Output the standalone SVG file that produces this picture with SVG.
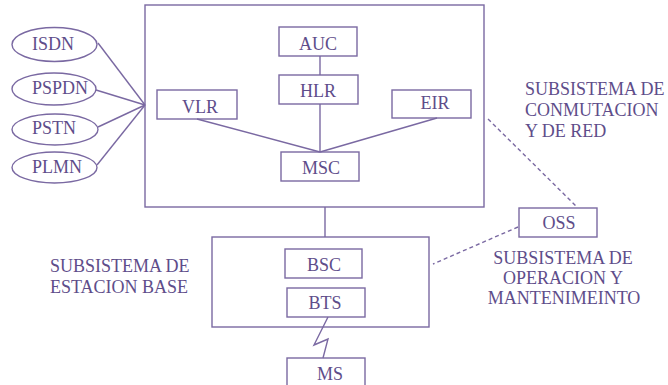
<svg xmlns="http://www.w3.org/2000/svg" width="668" height="385" viewBox="0 0 668 385">
  <style>
    .box { fill: none; stroke: #7a69a2; stroke-width: 1.4; }
    .ell { fill: #ffffff; stroke: #7a69a2; stroke-width: 1.4; }
    .ln { fill: none; stroke: #7a69a2; stroke-width: 1.4; }
    .dash { fill: none; stroke: #7a69a2; stroke-width: 1.4; stroke-dasharray: 4 3; }
    .t { font-family: "Liberation Serif", "Times New Roman", Times, Tinos, "Noto Serif", "DejaVu Serif", FreeSerif, Georgia, serif; font-size: 18px; fill: #5e4d8a; }
    .c { text-anchor: middle; }
  </style>
  <rect width="668" height="385" fill="#ffffff"/>

  <!-- subsystem frames -->
  <g id="nss">
    <rect class="box" x="145" y="5" width="339" height="202"/>
  </g>
  <g id="bss">
    <rect class="box" x="212" y="237" width="217" height="90"/>
  </g>

  <!-- connectors -->
  <g id="connectors">
    <line class="ln" x1="98" y1="43" x2="145" y2="105"/>
    <line class="ln" x1="96" y1="90" x2="145" y2="105"/>
    <line class="ln" x1="98" y1="127" x2="145" y2="105"/>
    <line class="ln" x1="97" y1="165" x2="145" y2="105"/>
    <line class="ln" x1="320" y1="56" x2="320" y2="75"/>
    <line class="ln" x1="320" y1="104" x2="320" y2="152"/>
    <line class="ln" x1="197" y1="119" x2="320" y2="152"/>
    <line class="ln" x1="437" y1="118" x2="320" y2="152"/>
    <line class="ln" x1="325" y1="207" x2="325" y2="237"/>
    <polyline class="ln" points="328,317 314,345 328,339 323,358"/>
    <line class="dash" x1="488" y1="119" x2="577" y2="207"/>
    <line class="dash" x1="518" y1="227" x2="433" y2="264"/>
  </g>

  <!-- external networks -->
  <g id="isdn">
    <ellipse class="ell" cx="54.5" cy="44.5" rx="42.5" ry="17"/>
    <text class="t" x="32" y="50">ISDN</text>
  </g>
  <g id="pspdn">
    <ellipse class="ell" cx="54" cy="89" rx="42" ry="16"/>
    <text class="t" x="32" y="94">PSPDN</text>
  </g>
  <g id="pstn">
    <ellipse class="ell" cx="55" cy="129.5" rx="43" ry="15.5"/>
    <text class="t" x="32" y="134">PSTN</text>
  </g>
  <g id="plmn">
    <ellipse class="ell" cx="54.5" cy="167.5" rx="42.5" ry="15.5"/>
    <text class="t" x="32" y="173">PLMN</text>
  </g>

  <!-- switching subsystem elements -->
  <g id="auc">
    <rect class="box" x="279" y="27" width="78" height="29"/>
    <text class="t c" x="318" y="50">AUC</text>
  </g>
  <g id="hlr">
    <rect class="box" x="279" y="75" width="79" height="29"/>
    <text class="t c" x="318" y="97">HLR</text>
  </g>
  <g id="vlr">
    <rect class="box" x="157" y="90" width="80" height="29"/>
    <text class="t c" x="200" y="113">VLR</text>
  </g>
  <g id="eir">
    <rect class="box" x="392" y="90" width="79" height="28"/>
    <text class="t c" x="435" y="109">EIR</text>
  </g>
  <g id="msc">
    <rect class="box" x="281" y="152" width="78" height="29"/>
    <text class="t c" x="321" y="174">MSC</text>
  </g>

  <!-- base station subsystem elements -->
  <g id="bsc">
    <rect class="box" x="285" y="249" width="77" height="29"/>
    <text class="t c" x="324" y="271">BSC</text>
  </g>
  <g id="bts">
    <rect class="box" x="287" y="288" width="78" height="29"/>
    <text class="t c" x="325" y="309">BTS</text>
  </g>
  <g id="ms">
    <rect class="box" x="287" y="358" width="78" height="40"/>
    <text class="t c" x="330" y="380">MS</text>
  </g>

  <!-- operation and maintenance -->
  <g id="oss">
    <rect class="box" x="519" y="208" width="78" height="29"/>
    <text class="t c" x="559" y="229">OSS</text>
  </g>

  <!-- subsystem captions -->
  <g id="labels">
    <text class="t" x="525" y="95">SUBSISTEMA DE</text>
    <text class="t" x="525" y="116">CONMUTACION</text>
    <text class="t" x="525" y="137">Y DE RED</text>
    <text class="t" x="50" y="272">SUBSISTEMA DE</text>
    <text class="t" x="50" y="293">ESTACION BASE</text>
    <text class="t c" x="563" y="264">SUBSISTEMA DE</text>
    <text class="t c" x="563" y="284">OPERACION Y</text>
    <text class="t c" x="564" y="304">MANTENIMEINTO</text>
  </g>
</svg>
